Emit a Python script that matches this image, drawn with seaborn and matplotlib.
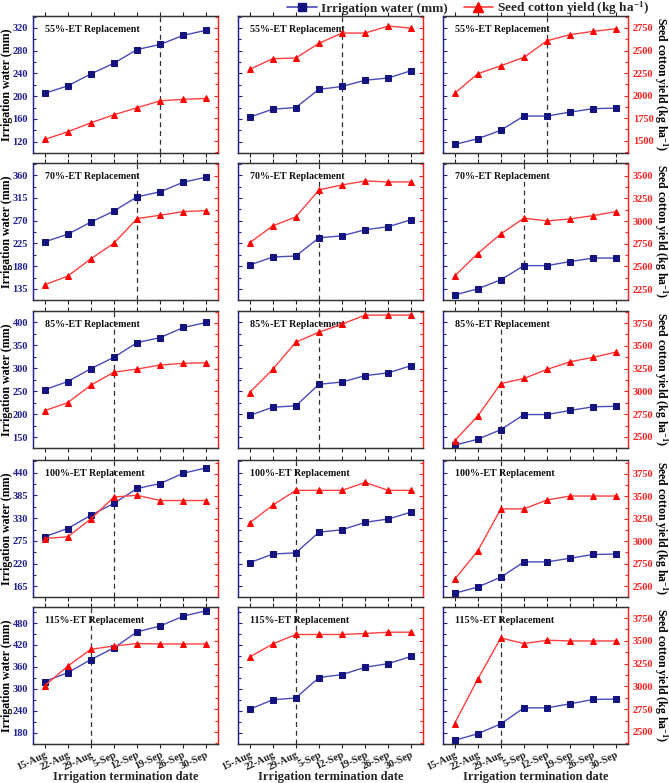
import matplotlib
matplotlib.use("Agg")
import matplotlib.pyplot as plt
import seaborn as sns
import numpy as np
from matplotlib.ticker import MultipleLocator, AutoMinorLocator
from matplotlib.lines import Line2D

sns.set_style("ticks")
plt.rcParams['font.family'] = ['Liberation Serif', 'DejaVu Serif']
plt.rcParams['font.weight'] = 'bold'
plt.rcParams['mathtext.fontset'] = 'custom'
plt.rcParams['mathtext.rm'] = 'Liberation Serif:bold'
plt.rcParams['mathtext.bf'] = 'Liberation Serif:bold'
plt.rcParams['mathtext.default'] = 'bf'

dates = ['15-Aug', '22-Aug', '29-Aug', '5-Sep', '12-Sep', '19-Sep', '26-Sep', '30-Sep']
treatments = ['55%-ET Replacement', '70%-ET Replacement', '85%-ET Replacement',
              '100%-ET Replacement', '115%-ET Replacement']

# Irrigation water (mm), three panels (columns) per treatment
water_55 = ([205, 218, 239, 258, 282, 291, 307, 316],
            [163, 177, 180, 212, 217, 228, 232, 245],
            [115, 125, 140, 165, 165, 172, 178, 179])
water_70 = ([228, 243, 267, 289, 317, 327, 346, 356],
            [182, 198, 200, 236, 240, 252, 258, 272],
            [123, 135, 153, 181, 181, 189, 196, 196])
water_85 = ([253, 271, 299, 324, 356, 367, 389, 400],
            [197, 215, 218, 265, 270, 284, 290, 306],
            [132, 145, 166, 199, 199, 208, 216, 217])
water_100 = ([285, 305, 337, 366, 402, 414, 439, 452],
             [222, 243, 246, 296, 302, 320, 328, 345],
             [148, 163, 187, 224, 224, 233, 242, 243])
water_115 = ([320, 344, 380, 412, 456, 472, 499, 514],
             [244, 270, 275, 331, 339, 359, 369, 389],
             [159, 177, 204, 248, 248, 259, 271, 272])

# Seed cotton yield (kg ha-1)
yield_55 = ([1513, 1598, 1698, 1787, 1865, 1942, 1958, 1969],
            [2291, 2409, 2417, 2580, 2694, 2694, 2772, 2747],
            [2024, 2242, 2331, 2424, 2609, 2676, 2713, 2742])
yield_70 = ([2297, 2392, 2583, 2756, 3027, 3064, 3104, 3115],
            [2759, 2946, 3045, 3343, 3398, 3442, 3431, 3431],
            [2392, 2641, 2858, 3031, 3001, 3023, 3060, 3104])
yield_85 = ([2788, 2876, 3068, 3211, 3245, 3289, 3308, 3315],
            [2987, 3241, 3540, 3650, 3739, 3838, 3838, 3838],
            [2456, 2729, 3086, 3142, 3241, 3326, 3374, 3433])
yield_100 = ([3030, 3049, 3247, 3492, 3511, 3453, 3453, 3453],
             [3203, 3401, 3566, 3566, 3566, 3654, 3566, 3566],
             [2575, 2891, 3360, 3360, 3459, 3503, 3503, 3503])
yield_115 = ([3006, 3222, 3407, 3444, 3470, 3466, 3466, 3466],
             [3322, 3466, 3570, 3570, 3570, 3581, 3595, 3595],
             [2592, 3079, 3532, 3470, 3507, 3499, 3499, 3499])

# index of the dashed reference date per panel
dash_idx = ([5, 4, 4], [4, 3, 3], [3, 3, 2], [3, 2, 2], [2, 2, 2])

water = [water_55, water_70, water_85, water_100, water_115]
yields = [yield_55, yield_70, yield_85, yield_100, yield_115]

left_lims = [(100, 341), (113, 384), (126, 425), (139, 471), (149, 524)]
left_steps = [40, 45, 50, 55, 60]
right_lims = [(1363, 2883), (2129, 3640), (2378, 3883), (2379, 3904), (2367, 3872)]

BLUE_LINE = '#4a4ab8'
BLUE_MK = '#141480'
RED_LINE = '#ff4040'
RED_MK = '#ff0000'
BLUE_TXT = '#202090'
RED_TXT = '#ff2020'

W, H = 669, 783
fig = plt.figure(figsize=(W / 100, H / 100), dpi=100)

col_left = [33, 238, 443]
ax_w = 185
row_top = [16, 163, 311, 460, 607]
ax_h = 137

x = np.arange(len(dates))

for r in range(5):
    yc = 1 - (row_top[r] + ax_h / 2) / H
    for c in range(3):
        ax = fig.add_axes([col_left[c] / W, 1 - (row_top[r] + ax_h) / H, ax_w / W, ax_h / H])
        ax2 = ax.twinx()
        sns.lineplot(x=x, y=water[r][c], ax=ax, color=BLUE_LINE, linewidth=1.0,
                     marker='s', markersize=4.5, markerfacecolor=BLUE_MK,
                     markeredgecolor=BLUE_MK, zorder=3)
        sns.lineplot(x=x, y=yields[r][c], ax=ax2, color=RED_LINE, linewidth=1.0,
                     marker='^', markersize=5, markerfacecolor=RED_MK,
                     markeredgecolor=RED_MK, zorder=3)
        ax.axvline(dash_idx[r][c], color='#333333', linestyle=(0, (4, 3)), linewidth=0.9, zorder=1)

        ax.set_xlim(-0.5, 7.5)
        ax.set_ylim(*left_lims[r])
        ax2.set_ylim(*right_lims[r])
        ax.yaxis.set_major_locator(MultipleLocator(left_steps[r]))
        ax.yaxis.set_minor_locator(AutoMinorLocator(2))
        ax2.yaxis.set_major_locator(MultipleLocator(250))
        ax2.yaxis.set_minor_locator(AutoMinorLocator(2))

        ax.set_xticks(x)
        ax.tick_params(axis='x', direction='out', length=3, width=0.8, top=True,
                       labelsize=7.5, colors='#222222', pad=1.5)
        ax.tick_params(axis='y', which='both', direction='in', colors=BLUE_TXT,
                       labelcolor=BLUE_TXT, labelsize=7.5, width=0.8)
        ax.tick_params(axis='y', which='major', length=3)
        ax.tick_params(axis='y', which='minor', length=2)
        ax2.tick_params(axis='y', which='both', direction='in', colors=RED_TXT,
                        labelcolor=RED_TXT, labelsize=7.5, width=0.8)
        ax2.tick_params(axis='y', which='major', length=3)
        ax2.tick_params(axis='y', which='minor', length=2)
        ax.set_ylabel('')
        ax2.set_ylabel('')

        if r == 4:
            ax.set_xticklabels(dates, rotation=25, ha='right', rotation_mode='anchor',
                               fontweight='bold')
            ax.set_xlabel('Irrigation termination date', fontsize=9, fontweight='bold',
                          labelpad=-1)
        else:
            ax.set_xticklabels([])
            ax.set_xlabel('')
        if c != 0:
            ax.set_yticklabels([])
        if c != 2:
            ax2.set_yticklabels([])

        for a in (ax, ax2):
            a.spines['top'].set_color('#333333')
            a.spines['bottom'].set_color('#333333')
            a.spines['left'].set_color(BLUE_TXT)
            a.spines['right'].set_color(RED_TXT)
            for s in a.spines.values():
                s.set_linewidth(0.9)

        ax.text(0.065, 0.905, treatments[r], transform=ax.transAxes, fontsize=7.2,
                fontweight='bold', va='center', ha='left', color='#111111', zorder=5)

    fig.text(7 / W, yc, 'Irrigation water (mm)', rotation=90, ha='center', va='center',
             fontsize=8.6, fontweight='bold', color='black')
    fig.text(660.5 / W, yc, 'Seed cotton yield (kg ha$^{-1}$)', rotation=270,
             ha='center', va='center', fontsize=8.5, fontweight='bold', color='black')

handles = [
    Line2D([], [], color=BLUE_LINE, marker='s', markersize=6, markerfacecolor=BLUE_MK,
           markeredgecolor=BLUE_MK, linewidth=1.2),
    Line2D([], [], color=RED_LINE, marker='^', markersize=6.5, markerfacecolor=RED_MK,
           markeredgecolor=RED_MK, linewidth=1.2),
]
fig.legend(handles, ['Irrigation water (mm)', 'Seed cotton yield (kg ha$^{-1}$)'],
           loc='center', bbox_to_anchor=(0.70, 0.9895), ncol=2, frameon=False,
           prop={'weight': 'bold', 'size': 9.6}, handlelength=2.2, columnspacing=1.2,
           handletextpad=0.3, borderaxespad=0, borderpad=0)

fig.savefig('out.png', dpi=100)
